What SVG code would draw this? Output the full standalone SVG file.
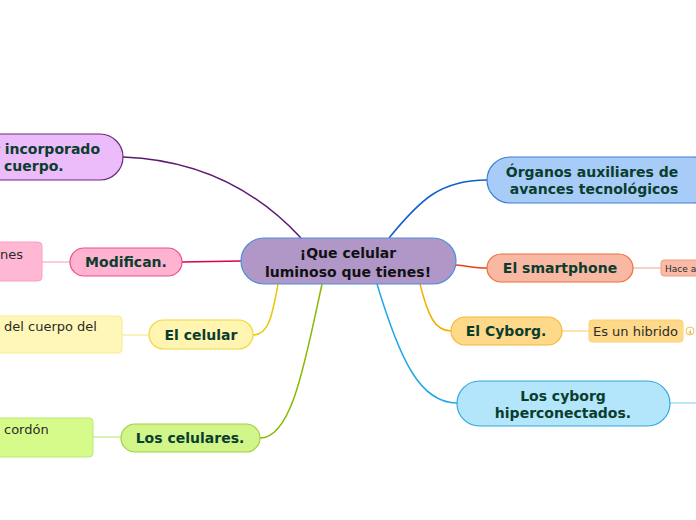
<svg xmlns="http://www.w3.org/2000/svg" width="696" height="520" viewBox="0 0 696 520">
<style>
.t{font-family:"DejaVu Sans",Verdana,sans-serif;font-weight:bold;font-size:14px;fill:#0b3d2e;text-anchor:middle}
.n{font-family:"DejaVu Sans",Verdana,sans-serif;font-size:13px;fill:#2a2a2a}
.c{fill:none;stroke-width:1.5}
.s{fill:none;stroke-width:1.2}
</style>
<rect width="696" height="520" fill="#ffffff"/>
<g id="connectors">
<path class="c" stroke="#5b1a6e" d="M301,238 C262,196 205,160 123,157"/>
<path class="c" stroke="#d6004f" d="M241,261 L182,262"/>
<path class="c" stroke="#e8c800" d="M278,284 C272,318 268,335 253,335"/>
<path class="c" stroke="#8ab800" d="M322,284 C305,362 292,438 260,438"/>
<path class="c" stroke="#1060c8" d="M389,238 C420,200 440,180 487,180"/>
<path class="c" stroke="#e84010" d="M456,265 C468,266 475,268 487,268"/>
<path class="c" stroke="#f0b000" d="M420,284 C428,316 435,331 451,331"/>
<path class="c" stroke="#20a8e8" d="M377,284 C400,360 420,403 457,403"/>
<path class="s" stroke="#ffa8c8" d="M42,262 L70,262"/>
<path class="s" stroke="#fbe890" d="M122,335 L149,335"/>
<path class="s" stroke="#c0e880" d="M93,437 L121,437"/>
<path class="s" stroke="#f8b0a0" d="M633,268 L661,268"/>
<path class="s" stroke="#ffd070" d="M562,331 L589,331"/>
<path class="s" stroke="#90d4f4" d="M670,403 L696,403"/>
</g>
<g id="central">
<rect x="241" y="238" width="215" height="46" rx="23" fill="#b097c8" stroke="#4a90d9" stroke-width="1.2"/>
<text class="t" x="348" y="258" style="fill:#111">¡Que celular</text>
<text class="t" x="348" y="277" style="fill:#111">luminoso que tienes!</text>
</g>
<g id="n-incorporado">
<rect x="-30" y="134" width="153" height="46" rx="23" fill="#ebbcf9" stroke="#6a2a7a" stroke-width="1.2"/>
<text class="t" x="-7" y="154" style="text-anchor:start">r incorporado</text>
<text class="t" x="4" y="171" style="text-anchor:start">cuerpo.</text>
</g>
<g id="n-modifican">
<rect x="70" y="248" width="112" height="28" rx="14" fill="#ffb3d1" stroke="#e8508a" stroke-width="1.2"/>
<text class="t" x="126" y="267">Modifican.</text>
</g>
<g id="n-nes">
<rect x="-10" y="242" width="52" height="39" rx="4" fill="#ffb8d4" stroke="#ff9cc5" stroke-width="1"/>
<text class="n" x="0" y="259">nes</text>
</g>
<g id="n-elcelular">
<rect x="149" y="320" width="104" height="29" rx="14.5" fill="#fff5b0" stroke="#f0d840" stroke-width="1.2"/>
<text class="t" x="201" y="340">El celular</text>
</g>
<g id="n-delcuerpo">
<rect x="-10" y="316" width="132" height="37" rx="4" fill="#fff7b8" stroke="#fce98a" stroke-width="1"/>
<text class="n" x="4" y="331">del cuerpo del</text>
</g>
<g id="n-loscelulares">
<rect x="121" y="424" width="139" height="28" rx="14" fill="#d2f58a" stroke="#a0d040" stroke-width="1.2"/>
<text class="t" x="190" y="443">Los celulares.</text>
</g>
<g id="n-cordon">
<rect x="-10" y="418" width="103" height="39" rx="4" fill="#d6fb8a" stroke="#b8e870" stroke-width="1"/>
<text class="n" x="4" y="434">cordón</text>
</g>
<g id="n-organos">
<rect x="487" y="157" width="230" height="46" rx="23" fill="#a8ccf8" stroke="#3a7fd0" stroke-width="1.2"/>
<text class="t" x="592" y="177">Órganos auxiliares de</text>
<text class="t" x="594" y="194">avances tecnológicos</text>
</g>
<g id="n-smartphone">
<rect x="487" y="254" width="146" height="28" rx="14" fill="#f9b8a4" stroke="#e8703a" stroke-width="1.2"/>
<text class="t" x="560" y="273">El smartphone</text>
</g>
<g id="n-hace">
<rect x="661" y="260" width="45" height="16" rx="3" fill="#f9bba8" stroke="#f0a080" stroke-width="1"/>
<text class="n" x="665" y="272" style="font-size:9px">Hace a</text>
</g>
<g id="n-cyborg">
<rect x="451" y="317" width="111" height="28" rx="14" fill="#ffd98a" stroke="#f5b830" stroke-width="1.2"/>
<text class="t" x="506" y="336">El Cyborg.</text>
</g>
<g id="n-hibrido">
<rect x="589" y="320" width="94" height="22" rx="3" fill="#ffd98a" stroke="#ffd070" stroke-width="1"/>
<text class="n" x="593" y="336">Es un hibrido</text>
<circle cx="690" cy="331" r="4" fill="#fff" stroke="#f5c040" stroke-width="1"/>
<text x="690" y="333.5" style="font-family:'DejaVu Sans',sans-serif;font-size:5px;fill:#c09020;text-anchor:middle">4</text>
</g>
<g id="n-hiperconectados">
<rect x="457" y="381" width="213" height="45" rx="22.5" fill="#b3e5fb" stroke="#30a8e0" stroke-width="1.2"/>
<text class="t" x="563" y="401">Los cyborg</text>
<text class="t" x="563" y="418">hiperconectados.</text>
</g>
</svg>
